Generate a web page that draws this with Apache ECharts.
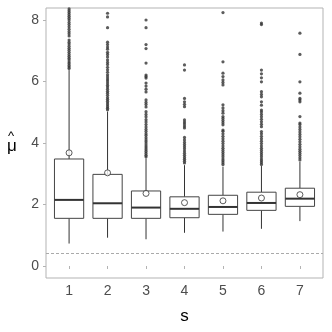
<!DOCTYPE html>
<html>
<head>
<meta charset="utf-8">
<title></title>
<script src="https://cdn.jsdelivr.net/npm/echarts@6/dist/echarts.min.js"></script>
<style>html,body{margin:0;padding:0;background:#fff;}</style>
</head>
<body>
<div id="main" style="width:332px;height:332px;"></div>
<script type="text/javascript">
// groups on the x axis
var s = [1, 2, 3, 4, 5, 6, 7];
var yTicks = [0, 2, 4, 6, 8];

// box statistics per group
var lowerWhisker = [0.73, 0.92, 0.87, 1.08, 1.12, 1.21, 1.46];
var q1 = [1.55, 1.55, 1.55, 1.57, 1.68, 1.81, 1.94];
var median = [2.15, 2.04, 1.90, 1.86, 1.92, 2.05, 2.19];
var q3 = [3.48, 2.98, 2.44, 2.25, 2.30, 2.40, 2.53];
var upperWhisker = [6.37, 5.02, 3.50, 3.28, 3.23, 3.25, 3.39];
var means = [3.68, 3.03, 2.36, 2.06, 2.12, 2.21, 2.32];
var referenceLine = 0.4;

// outliers per group
var out1 = [6.42, 6.47, 6.52, 6.58, 6.63, 6.70, 6.76, 6.82, 6.88, 6.95, 7.02, 7.08, 7.15, 7.22, 7.28, 7.35, 7.48, 7.55, 7.62, 7.70, 7.78, 7.85, 7.92, 8.00, 8.06, 8.12, 8.18, 8.24, 8.30, 8.36];
var out2 = [5.08, 5.13, 5.18, 5.24, 5.30, 5.36, 5.42, 5.48, 5.55, 5.62, 5.68, 5.75, 5.82, 5.88, 5.95, 6.02, 6.08, 6.15, 6.22, 6.30, 6.38, 6.46, 6.55, 6.62, 6.70, 6.80, 6.88, 6.95, 7.05, 7.12, 7.20, 7.28, 7.75, 8.10, 8.22];
var out3 = [3.55, 3.60, 3.66, 3.72, 3.78, 3.84, 3.90, 3.97, 4.04, 4.10, 4.17, 4.24, 4.30, 4.37, 4.44, 4.52, 4.60, 4.68, 4.76, 4.85, 4.93, 5.02, 5.17, 5.25, 5.32, 5.40, 5.66, 5.75, 5.85, 5.95, 6.11, 6.16, 6.21, 6.60, 7.07, 7.20, 7.75, 8.00];
var out4 = [3.35, 3.41, 3.47, 3.53, 3.60, 3.67, 3.74, 3.81, 3.88, 3.95, 4.02, 4.10, 4.18, 4.49, 4.55, 4.62, 4.68, 4.75, 5.18, 5.26, 5.34, 5.45, 6.37, 6.54];
var out5 = [3.30, 3.36, 3.42, 3.48, 3.55, 3.62, 3.69, 3.76, 3.83, 3.90, 3.98, 4.06, 4.14, 4.22, 4.30, 4.38, 4.42, 4.59, 4.66, 4.73, 4.80, 4.86, 4.97, 5.05, 5.14, 5.24, 5.89, 5.97, 6.05, 6.16, 6.27, 6.64, 8.24];
var out6 = [3.30, 3.36, 3.42, 3.48, 3.55, 3.62, 3.69, 3.76, 3.83, 3.90, 3.98, 4.06, 4.14, 4.22, 4.30, 4.37, 4.53, 4.61, 4.69, 4.77, 4.85, 4.93, 5.01, 5.07, 5.23, 5.34, 5.50, 5.58, 5.67, 5.99, 6.12, 6.25, 6.37, 7.85, 7.90];
var out7 = [3.45, 3.52, 3.59, 3.66, 3.73, 3.80, 3.88, 3.96, 4.04, 4.12, 4.20, 4.28, 4.36, 4.44, 4.52, 4.60, 4.65, 4.86, 5.34, 5.40, 5.45, 5.62, 5.99, 6.88, 7.57];
var outliers = [out1, out2, out3, out4, out5, out6, out7];

var boxData = s.map(function (x, i) {
    return [x, lowerWhisker[i], q1[i], median[i], q3[i], upperWhisker[i]];
});
var meanData = s.map(function (x, i) { return [x, means[i]]; });
var outData = [];
outliers.forEach(function (arr, i) {
    arr.forEach(function (v) { outData.push([s[i], v]); });
});

var font = 'Liberation Sans, Arial, sans-serif';
var myChart = echarts.init(document.getElementById('main'));

function renderBox(params, api) {
    var x = api.value(0);
    var half = api.size([0.38, 0])[0];
    var pLo = api.coord([x, api.value(1)]);
    var pQ1 = api.coord([x, api.value(2)]);
    var pMed = api.coord([x, api.value(3)]);
    var pQ3 = api.coord([x, api.value(4)]);
    var pHi = api.coord([x, api.value(5)]);
    var line = { stroke: '#333', lineWidth: 1 };
    return {
        type: 'group',
        children: [
            { type: 'line', shape: { x1: pLo[0], y1: pLo[1], x2: pQ1[0], y2: pQ1[1] }, style: line },
            { type: 'line', shape: { x1: pQ3[0], y1: pQ3[1], x2: pHi[0], y2: pHi[1] }, style: line },
            { type: 'rect', shape: { x: pQ3[0] - half, y: pQ3[1], width: half * 2, height: pQ1[1] - pQ3[1] },
              style: { fill: '#fff', stroke: '#444', lineWidth: 1 } },
            { type: 'line', shape: { x1: pMed[0] - half, y1: pMed[1], x2: pMed[0] + half, y2: pMed[1] },
              style: { stroke: '#333', lineWidth: 2 } }
        ]
    };
}

myChart.setOption({
    animation: false,
    backgroundColor: '#fff',
    grid: { left: 46, right: 9, top: 8, bottom: 54, show: true, borderColor: '#b3b3b3', borderWidth: 1 },
    // y axis title: mu with a hat
    graphic: [
        { type: 'text', left: 7, top: 138, style: { text: 'μ', font: '17px ' + font, fill: '#000' } },
        { type: 'text', left: 8, top: 130, style: { text: '^', font: '13px ' + font, fill: '#000' } }
    ],
    xAxis: {
        type: 'value', min: 0.4, max: 7.6,
        name: 's', nameLocation: 'middle', nameGap: 30,
        nameTextStyle: { fontFamily: font, fontSize: 17, color: '#000' },
        axisLine: { show: false },
        axisTick: { show: true, length: 3, lineStyle: { color: '#b3b3b3' }, customValues: s },
        axisLabel: { color: '#4d4d4d', fontFamily: font, fontSize: 14, margin: 6, customValues: s },
        splitLine: { show: false }
    },
    yAxis: {
        type: 'value', min: -0.39, max: 8.39,
        axisLine: { show: false },
        axisTick: { show: true, length: 3, lineStyle: { color: '#b3b3b3' }, customValues: yTicks },
        axisLabel: { color: '#4d4d4d', fontFamily: font, fontSize: 14, margin: 7, customValues: yTicks },
        splitLine: { show: false }
    },
    series: [
        {
            type: 'custom',
            renderItem: renderBox,
            data: boxData,
            z: 2
        },
        {
            type: 'scatter',
            data: outData,
            symbolSize: 3.2,
            itemStyle: { color: '#333' },
            z: 3,
            markLine: {
                silent: true, symbol: 'none', label: { show: false },
                lineStyle: { color: '#aaa', type: [3, 2], width: 1 },
                data: [{ yAxis: referenceLine }]
            }
        },
        {
            type: 'scatter',
            data: meanData,
            symbol: 'circle',
            symbolSize: 6,
            itemStyle: { color: '#fff', borderColor: '#333', borderWidth: 1 },
            z: 4
        }
    ]
});
</script>
</body>
</html>
